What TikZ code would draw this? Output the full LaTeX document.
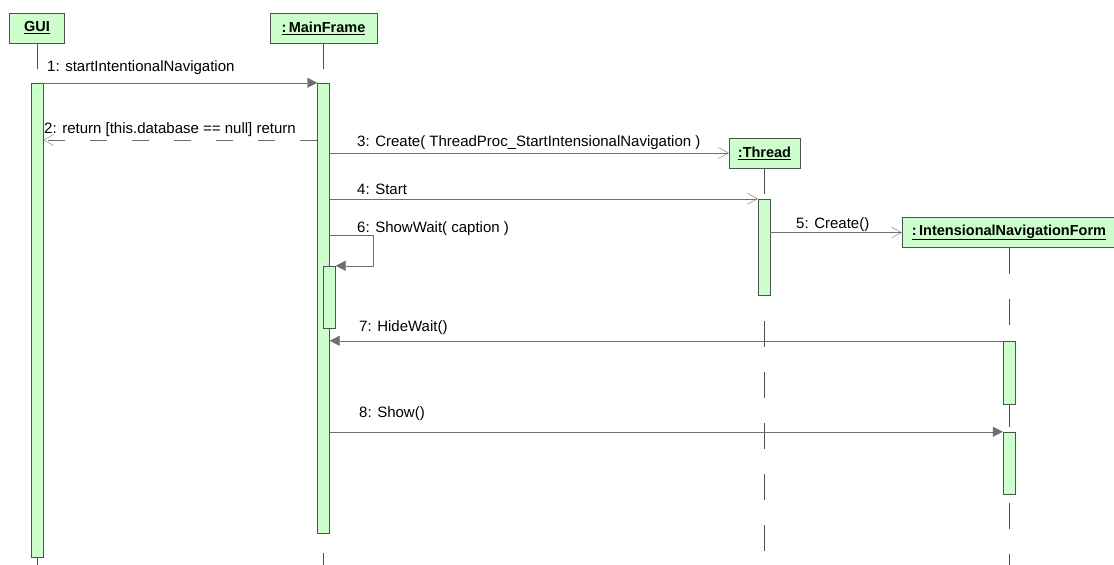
\documentclass[tikz,border=0pt]{standalone}
\usepackage{fontspec}
\setmainfont{Liberation Sans}
\usetikzlibrary{arrows.meta}

\definecolor{objfill}{RGB}{204,255,204}
\definecolor{objline}{RGB}{80,80,80}
\definecolor{msgline}{RGB}{110,110,110}

\tikzset{
	obj/.style={draw=objline, fill=objfill, shape=rectangle, minimum height=30pt, inner sep=3pt, font=\fontsize{14.5}{16}\selectfont\bfseries},
	act/.style={draw=objline, fill=objfill, shape=rectangle, minimum width=12pt, inner sep=0pt},
	life/.style={draw=objline, dash pattern=on 26pt off 25pt},
	call/.style={draw=msgline, -{Triangle[length=10pt,width=10pt]}},
	send/.style={draw=msgline, -{Straight Barb[length=10pt,width=11pt]}},
	ret/.style={draw=msgline, dash pattern=on 17pt off 25pt, -{Straight Barb[length=10pt,width=11pt]}},
	lbl/.style={anchor=base west, inner sep=0pt, font=\fontsize{15}{17}\selectfont}
}

\begin{document}
\begin{tikzpicture}[x=1pt, y=-1pt]
	\useasboundingbox (0,0) rectangle (1114,565);

	% objects
	\node[obj, minimum width=55pt] (gui) at (37,28) {\underline{GUI}};
	\node[obj, minimum width=107pt] (mainframe) at (323.5,28) {\underline{:\,MainFrame}};
	\node[obj, minimum width=71pt] (thread) at (764.5,153) {\underline{:Thread}};
	\node[obj, minimum width=214pt] (navform) at (1009,232.5) {\underline{:\,IntensionalNavigationForm}};

	% lifelines
	\draw[life] (gui.south) -- (gui.south |- 0,565);
	\draw[life] (mainframe.south) -- (mainframe.south |- 0,565);
	\draw[life] (thread.south) -- (thread.south |- 0,565);
	\draw[life] (navform.south) -- (navform.south |- 0,565);

	% activations
	\node[act, minimum height=474pt] (act_gui) at (37,320) {};
	\node[act, minimum height=450pt] (act_main) at (323.5,308) {};
	\node[act, minimum height=62pt] (act_sub) at (329.5,297) {};
	\node[act, minimum height=96pt] (act_thread) at (764,247) {};
	\node[act, minimum height=63pt] (act_nav1) at (1009,372.5) {};
	\node[act, minimum height=62pt] (act_nav2) at (1009,463) {};

	% messages
	\draw[call] (act_gui.north east) -- (act_main.north west);
	\node[lbl] (l_1) at (47,71) {1: startIntentionalNavigation};

	\draw[ret] (act_main.west |- 0,140) -- (act_gui.east |- 0,140);
	\node[lbl] (l_2) at (44,133) {2: return [this.database == null] return};

	\draw[send] (act_main.east |- thread.west) -- (thread.west);
	\node[lbl] (l_3) at (357,146) {3: Create( ThreadProc\_StartIntensionalNavigation )};

	\draw[send] (act_main.east |- act_thread.north west) -- (act_thread.north west);
	\node[lbl] (l_4) at (357,194) {4: Start};

	\draw[send] (act_thread.east |- navform.west) -- (navform.west);
	\node[lbl] (l_5) at (796,228) {5: Create()};

	\draw[call] (act_main.east |- 0,235) -- (373,235) |- (act_sub.north east);
	\node[lbl] (l_6) at (357,232) {6: ShowWait( caption )};

	\draw[call] (act_nav1.north west) -- (act_main.east |- act_nav1.north west);
	\node[lbl] (l_7) at (359,331) {7: HideWait()};

	\draw[call] (act_main.east |- act_nav2.north west) -- (act_nav2.north west);
	\node[lbl] (l_8) at (359,417) {8: Show()};
\end{tikzpicture}
\end{document}
